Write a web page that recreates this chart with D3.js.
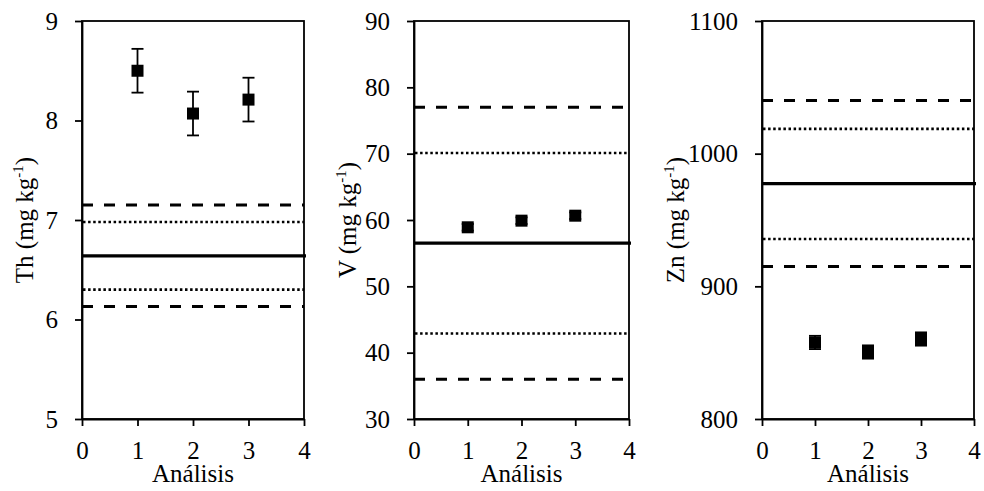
<!DOCTYPE html>
<html>
<head>
<meta charset="utf-8">
<script src="https://cdn.jsdelivr.net/npm/d3@7"></script>
<style>
  html, body { margin: 0; padding: 0; background: #fff; }
  svg { display: block; }
  svg text { font-family: "Liberation Serif", "DejaVu Serif", "Times New Roman", Times, serif !important; fill: #000; }
</style>
</head>
<body>
<svg id="chart" width="984" height="491"></svg>
<script>
// Replicate analyses of three elements against certified value and tolerance bands
const elements = ["Th", "V", "Zn"];
const analyses = [1, 2, 3];
const xTicks = [0, 1, 2, 3, 4];

const thValues = [8.50, 8.07, 8.21];
const thErrors = [0.22, 0.22, 0.22];
const vValues = [58.9, 59.9, 60.65];
const vErrors = [0.5, 0.5, 0.5];
const znValues = [857.7, 850.5, 860.3];
const znErrors = [5, 5, 5];

const yDomains = [[5, 9], [30, 90], [800, 1100]];
const yTicks = [[5, 6, 7, 8, 9], [30, 40, 50, 60, 70, 80, 90], [800, 900, 1000, 1100]];

// certified value, inner (dotted) and outer (dashed) limits
const certified = [6.64, 56.5, 977.4];
const upperDotted = [6.98, 70.1, 1018.7];
const lowerDotted = [6.30, 42.9, 935.7];
const upperDashed = [7.15, 77.0, 1040.0];
const lowerDashed = [6.13, 36.0, 914.9];

const seriesValues = [thValues, vValues, znValues];
const seriesErrors = [thErrors, vErrors, znErrors];

// plot frames: left, right, label baseline offset
const frames = [
  { x0: 82, x1: 304, labelX: 33 },
  { x0: 414, x1: 629, labelX: 356 },
  { x0: 762, x1: 974, labelX: 684 }
];
const plotTop = 21, plotBottom = 419;
const svg = d3.select("#chart");
const fontSize = 25;

frames.forEach((f, i) => {
  const x = d3.scaleLinear().domain([0, 4]).range([f.x0, f.x1]);
  const y = d3.scaleLinear().domain(yDomains[i]).range([plotBottom, plotTop]);
  const g = svg.append("g");

  // reference lines
  const refs = [
    { v: upperDashed[i], dash: "11,11", w: 3 },
    { v: lowerDashed[i], dash: "11,11", w: 3 },
    { v: upperDotted[i], dash: "2.5,2.6", w: 2.6 },
    { v: lowerDotted[i], dash: "2.5,2.6", w: 2.6 },
    { v: certified[i], dash: null, w: 3.2 }
  ];
  refs.forEach(r => {
    g.append("line")
      .attr("x1", x(0) + (r.dash && r.w < 3 ? 1 : 0)).attr("x2", x(4) + (r.dash ? 0 : 2))
      .attr("y1", y(r.v)).attr("y2", y(r.v))
      .attr("stroke", "#000")
      .attr("stroke-width", r.w)
      .attr("stroke-dasharray", r.dash);
  });

  // frame
  g.append("rect")
    .attr("x", f.x0).attr("y", plotTop)
    .attr("width", f.x1 - f.x0).attr("height", plotBottom - plotTop)
    .attr("fill", "none").attr("stroke", "#000").attr("stroke-width", 1.8);

  // axes
  const yAxis = d3.axisLeft(y).tickValues(yTicks[i]).tickSize(7).tickSizeOuter(0).tickPadding(17).tickFormat(d3.format("d"));
  const xAxis = d3.axisBottom(x).tickValues(xTicks).tickSize(7).tickSizeOuter(0).tickPadding(15).tickFormat(d3.format("d"));
  const ya = g.append("g").attr("transform", `translate(${f.x0},0)`).call(yAxis);
  const xa = g.append("g").attr("transform", `translate(0,${plotBottom})`).call(xAxis);
  [ya, xa].forEach(a => {
    a.attr("font-family", null).attr("font-size", fontSize);
    a.select(".domain").attr("stroke-width", 1.8);
    a.selectAll(".tick line").attr("stroke-width", 1.8);
  });

  // x axis title
  g.append("text")
    .attr("x", (f.x0 + f.x1) / 2).attr("y", 482)
    .attr("text-anchor", "middle")
    .attr("font-size", fontSize)
    .text("Análisis");

  // y axis title
  const yt = g.append("text")
    .attr("transform", `translate(${f.labelX},${(plotTop + plotBottom) / 2}) rotate(-90)`)
    .attr("text-anchor", "middle")
    .attr("font-size", fontSize);
  yt.append("tspan").text(elements[i] + " (mg kg");
  yt.append("tspan").attr("dy", -10).attr("font-size", 15).text("-1");
  yt.append("tspan").attr("dy", 10).text(")");

  // error bars
  const vals = seriesValues[i], errs = seriesErrors[i];
  const pts = analyses.map((a, k) => ({ a, v: vals[k], e: errs[k] }));
  const eb = g.append("g").attr("stroke", "#000").attr("stroke-width", 1.8);
  pts.forEach(p => {
    eb.append("line").attr("x1", x(p.a)).attr("x2", x(p.a)).attr("y1", y(p.v + p.e)).attr("y2", y(p.v - p.e));
    eb.append("line").attr("x1", x(p.a) - 6).attr("x2", x(p.a) + 6).attr("y1", y(p.v + p.e)).attr("y2", y(p.v + p.e));
    eb.append("line").attr("x1", x(p.a) - 6).attr("x2", x(p.a) + 6).attr("y1", y(p.v - p.e)).attr("y2", y(p.v - p.e));
  });

  // markers
  g.selectAll("rect.pt").data(pts).enter().append("rect")
    .attr("class", "pt")
    .attr("x", d => x(d.a) - 6).attr("y", d => y(d.v) - 6)
    .attr("width", 12).attr("height", 12)
    .attr("fill", "#000");
});
</script>
</body>
</html>
